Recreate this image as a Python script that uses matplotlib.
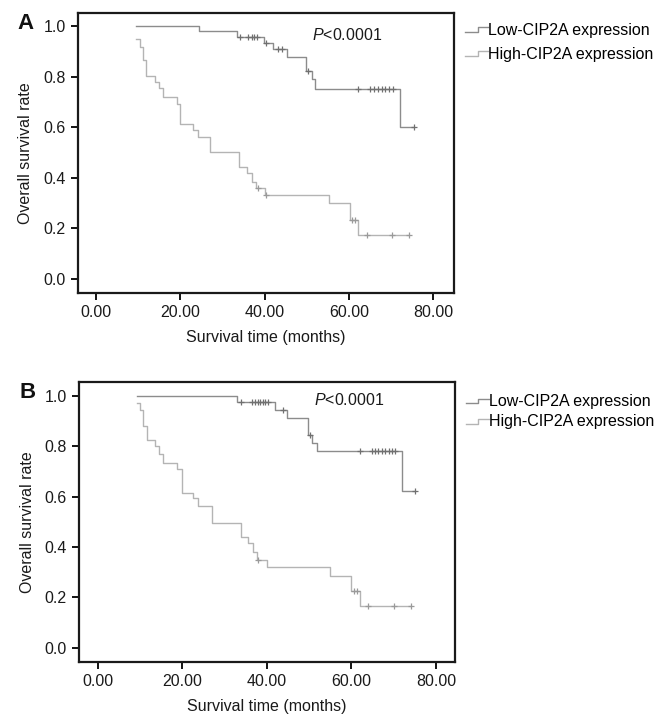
import numpy as np
import matplotlib
matplotlib.use("Agg")
import matplotlib.pyplot as plt
from matplotlib.lines import Line2D
from matplotlib.legend_handler import HandlerBase

plt.rcParams['font.family'] = ['Liberation Sans', 'DejaVu Sans']
plt.rcParams['mathtext.fontset'] = 'custom'
plt.rcParams['mathtext.it'] = 'Liberation Sans:italic'
plt.rcParams['mathtext.rm'] = 'Liberation Sans'

# ---------------- data ----------------
x_ticks = [0, 20, 40, 60, 80]
x_ticklabels = ["0.00", "20.00", "40.00", "60.00", "80.00"]
y_ticks = [0.0, 0.2, 0.4, 0.6, 0.8, 1.0]
y_ticklabels = ["0.0", "0.2", "0.4", "0.6", "0.8", "1.0"]
series_labels = ["Low-CIP2A expression", "High-CIP2A expression"]
panel_labels = ["A", "B"]
p_text = r"$\mathit{P}$<0.0001"

# Panel A - low CIP2A
a_low_t = [9.5, 24.4, 33.5, 39.7, 42.0, 45.2, 49.8, 51.2, 52.0, 72.1, 75.4]
a_low_s = [1.0, 0.979, 0.958, 0.934, 0.909, 0.876, 0.820, 0.790, 0.751, 0.602, 0.602]
a_low_c = [34.2, 36.1, 36.9, 37.5, 38.1, 40.2, 43.2, 44.0, 50.3,
           62.2, 65.0, 65.9, 66.8, 67.7, 68.6, 69.5, 70.4, 75.4]
# Panel A - high CIP2A
a_high_t = [9.5, 10.4, 11.2, 11.9, 14.0, 15.0, 15.9, 19.1, 19.9, 22.9, 24.1, 27.0,
            34.0, 35.7, 36.9, 38.0, 40.0, 55.2, 60.2, 62.2, 74.3]
a_high_s = [0.947, 0.918, 0.866, 0.802, 0.778, 0.754, 0.720, 0.690, 0.613, 0.589, 0.560, 0.500,
            0.444, 0.418, 0.385, 0.358, 0.332, 0.300, 0.233, 0.174, 0.174]
a_high_c = [38.3, 40.3, 60.8, 61.4, 64.2, 70.2, 74.3]

# Panel B - low CIP2A
b_low_t = [9.2, 33.0, 41.9, 44.7, 49.8, 50.8, 51.8, 71.9, 75.0]
b_low_s = [1.0, 0.977, 0.944, 0.911, 0.845, 0.812, 0.780, 0.624, 0.624]
b_low_c = [34.0, 36.5, 37.2, 37.8, 38.4, 39.0, 39.6, 40.3, 43.8, 50.2,
           62.0, 64.8, 65.6, 66.4, 67.2, 68.0, 68.8, 69.6, 70.3, 75.0]
# Panel B - high CIP2A
b_high_t = [9.2, 10.0, 10.8, 11.6, 13.5, 14.6, 15.5, 18.7, 19.9, 22.6, 23.8, 27.0,
            33.8, 35.6, 36.8, 37.7, 40.0, 54.9, 59.8, 62.0, 74.2]
b_high_s = [0.971, 0.944, 0.881, 0.825, 0.800, 0.770, 0.735, 0.709, 0.616, 0.594, 0.563, 0.497,
            0.441, 0.415, 0.381, 0.348, 0.319, 0.285, 0.226, 0.165, 0.165]
b_high_c = [38.0, 60.6, 61.4, 64.0, 70.1, 74.2]

panels = [
    dict(low=(a_low_t, a_low_s, a_low_c), high=(a_high_t, a_high_s, a_high_c),
         rect=[0.1175, 0.5931, 0.5663, 0.3889], xlim=(-4.3, 84.9), ylim=(-0.055, 1.051),
         ptext_xy=(51.2, 0.964), leg_y=1.005, leg_space=0.55),
    dict(low=(b_low_t, b_low_s, b_low_c), high=(b_high_t, b_high_s, b_high_c),
         rect=[0.1194, 0.0810, 0.5658, 0.3880], xlim=(-4.35, 84.5), ylim=(-0.056, 1.054),
         ptext_xy=(51.2, 0.984), leg_y=0.999, leg_space=0.35),
]

low_color = "#8c8c8c"
high_color = "#b4b4b4"
cens_color = "#707070"


class StepHandler(HandlerBase):
    def create_artists(self, legend, orig_handle, xdescent, ydescent, width, height,
                       fontsize, trans):
        x0 = -xdescent
        yb = -ydescent + height * 0.25
        yt = -ydescent + height * 0.65
        xs = [x0, x0 + width * 0.55, x0 + width * 0.55, x0 + width]
        ys = [yb, yb, yt, yt]
        line = Line2D(xs, ys, color=orig_handle.get_color(), lw=1.0)
        line.set_transform(trans)
        return [line]


def surv_at(t_arr, s_arr, t):
    idx = np.searchsorted(np.asarray(t_arr), t, side="right") - 1
    idx = np.clip(idx, 0, len(s_arr) - 1)
    return np.asarray(s_arr)[idx]


fig = plt.figure(figsize=(6.64, 7.2), dpi=100)

for i, p in enumerate(panels):
    ax = fig.add_axes(p["rect"])
    handles = []
    for key, col in (("low", low_color), ("high", high_color)):
        t, s, c = p[key]
        ln, = ax.plot(t, s, drawstyle="steps-post", color=col, lw=1.0)
        ax.plot(c, surv_at(t, s, c), linestyle="none", marker="+", ms=4,
                mew=0.9, color=cens_color if key == "low" else "#9a9a9a")
        handles.append(ln)
    ax.set_xlim(*p["xlim"])
    ax.set_ylim(*p["ylim"])
    ax.set_xticks(x_ticks)
    ax.set_xticklabels(x_ticklabels)
    ax.set_yticks(y_ticks)
    ax.set_yticklabels(y_ticklabels)
    ax.tick_params(labelsize=11.5, length=5, width=1.3, color="black", pad=4,
                   labelcolor="#1a1a1a")
    for sp in ax.spines.values():
        sp.set_linewidth(1.6)
        sp.set_color("#1a1a1a")
    ax.set_xlabel("Survival time (months)", fontsize=11.5, labelpad=7, color="#1a1a1a")
    ax.set_ylabel("Overall survival rate", fontsize=11.5, labelpad=7, color="#1a1a1a")
    ax.text(*p["ptext_xy"], p_text, fontsize=11.5, ha="left", va="center", color="#1a1a1a")
    ax.text(-0.16, 0.962, panel_labels[i], transform=ax.transAxes, fontsize=16,
            fontweight="bold", ha="left", va="center", color="#111111")
    ax.legend(handles, series_labels, loc="upper left", bbox_to_anchor=(1.0, p["leg_y"]),
              frameon=False, fontsize=11.5, handlelength=1.4, handletextpad=0.05,
              labelspacing=p["leg_space"], borderaxespad=0.3,
              handler_map={Line2D: StepHandler()})

fig.savefig("out.png", dpi=100, facecolor="white")
